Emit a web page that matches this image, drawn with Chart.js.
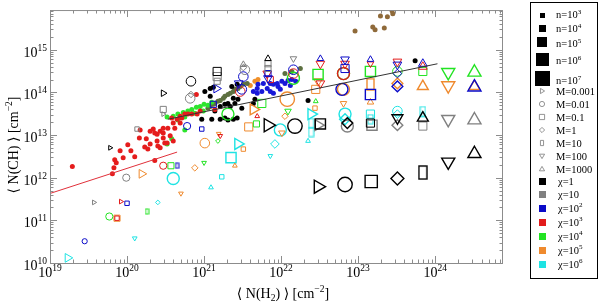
<!DOCTYPE html>
<html>
<head>
<meta charset="utf-8">
<script src="https://cdn.jsdelivr.net/npm/chart.js@4.4.0/dist/chart.umd.min.js"></script>
<style>
  html, body { margin: 0; padding: 0; background: #fff; }
</style>
</head>
<body>
<canvas id="chart" width="600" height="306"></canvas>
<script>
// all values are log10 of the column densities
const xTickExps = [19, 20, 21, 22, 23, 24];
const yTickExps = [10, 11, 12, 13, 14, 15];

// observations (filled dots)
const redDots = [[19.29,12.26],[19.84,12.42],[19.86,12.35],[19.83,12.23],[19.81,12.09],[19.95,12.47],[20.36,12.40],
  [20.01,12.77],[20.17,13.12],[20.30,13.09],[20.34,13.14],[20.16,12.93],[20.25,12.91],[20.39,13.02],[20.47,13.05],
  [20.53,13.16],[20.60,13.28],[20.65,13.37],[20.69,13.44],[20.75,13.49],[20.58,13.40],[20.49,12.81],[20.27,12.67],
  [20.40,12.74],[20.90,13.95],[20.36,13.05],[20.43,13.09],[20.47,13.16],[20.56,12.98],[20.47,12.93],[20.39,12.86],
  [20.30,12.79],[20.23,12.72],[20.43,12.70],[20.52,12.81],[20.60,12.86],[20.91,13.49],[20.95,13.56],[21.14,13.60],
  [20.84,13.49],[20.71,13.40],[20.62,13.16],[20.79,13.49],[20.69,13.28],[19.91,12.63],[20.05,12.63],[20.10,12.49]];
const greenDots = [[20.52,13.42],[20.60,13.44],[20.66,13.49],[20.73,13.53],[20.79,13.56],[20.84,13.60],[20.90,13.65],
  [20.95,13.67],[21.00,13.72],[21.05,13.70],[21.10,13.77],[20.75,13.42],[20.66,13.35],[20.88,13.51],[20.99,13.56],
  [20.52,12.79],[20.75,13.12],[20.58,12.91]];
const blackDots = [[21.08,14.09],[21.12,14.12],[21.36,14.14],[21.43,14.19],[21.38,13.86],[21.31,13.74],[21.27,13.72],
  [21.34,13.67],[21.40,13.74],[21.44,13.84],[21.49,13.63],[21.21,13.67],[20.97,13.37],[21.10,13.37],[21.21,13.37],
  [21.27,13.40],[21.31,13.35],[21.38,13.37],[21.43,13.40],[21.14,13.56],[21.08,13.91],[21.01,14.02],[21.64,13.74],
  [21.66,13.84],[23.74,14.74],[22.35,13.81]];
const blueDots = [[21.64,14.02],[21.69,14.09],[21.70,14.19],[21.77,14.21],[21.86,14.21],[21.90,14.19],[21.95,14.21],
  [22.01,14.26],[22.05,14.21],[21.96,14.14],[21.82,14.09],[21.75,14.02],[21.86,14.02],[21.90,13.98],[21.69,13.98],
  [22.09,14.28],[22.14,14.30],[22.19,14.26],[22.12,14.16],[21.99,14.07]];
const oliveDots = [[21.05,13.63],[21.08,13.67],[21.12,13.72],[21.14,13.74],[21.18,13.79],[21.21,13.81],[21.25,13.86],
  [21.27,13.91],[21.31,13.95],[21.34,13.98],[21.38,14.02],[21.40,14.07],[21.44,14.09],[21.47,14.14],[21.51,14.19],
  [21.56,14.21],[22.05,14.44],[22.14,14.49],[22.25,14.56]];
const orangeDots = [[21.66,14.26],[21.70,14.30],[21.60,14.16]];
const brownDots = [[22.96,15.44],[23.19,15.53],[23.22,15.47],[23.29,15.79],[23.38,15.77],[23.34,15.51],[23.44,15.91],[23.45,15.84]];

// fits
const redFit = [[19.0, 11.63], [20.65, 12.60]];
const blackFit = [[20.53, 13.37], [24.03, 14.67]];

// models: [logN(H2), logN(CH), M index, n index]
const mLabels = ['0.001', '0.01', '0.1', '1', '10', '100', '1000'];
const nLabels = ['3', '4', '5', '6', '7'];
const chiLabels = [['1', ''], ['10', ''], ['10', '2'], ['10', '3'], ['10', '4'], ['10', '5'], ['10', '6']];
const chiColors = ['#000000', '#808080', '#0a0ac8', '#e21b1b', '#22e322', '#ef8a2e', '#1ee3e3'];

const chi1 = [[19.78,12.70,0,0],[20.47,13.98,0,1],[20.83,14.26,1,2],[21.17,14.49,2,2],[21.83,14.79,6,1],
  [21.83,13.23,0,4],[22.18,13.21,1,4],[22.51,13.26,2,3],[22.86,13.28,3,3],[23.16,13.28,2,2],[23.51,13.40,5,3],
  [23.84,13.40,6,3],[22.48,11.79,0,4],[22.83,11.84,1,4],[23.17,11.91,2,4],[23.51,11.98,3,4],[23.84,12.12,4,4],
  [24.17,12.37,5,4],[24.51,12.56,6,4]];
const chi10 = [[19.57,11.42,0,0],[19.99,12.00,1,1],[20.13,13.14,2,0],[20.47,13.60,2,1],[20.47,13.49,0,0],
  [20.83,13.95,3,1],[20.82,13.86,1,2],[21.17,14.37,2,2],[21.17,14.26,2,1],[21.51,14.65,6,1],[21.51,14.58,3,1],
  [21.53,14.53,1,2],[21.83,14.67,2,1],[21.83,14.56,2,1],[22.16,14.79,5,1],[22.48,13.23,0,3],[22.86,13.21,1,3],
  [23.18,13.23,2,3],[23.51,13.23,3,3],[23.84,13.21,2,2],[24.17,13.37,5,4],[24.51,13.35,6,4]];
const chi1e2 = [[19.45,10.51,1,0],[20.00,11.40,2,0],[20.78,13.21,1,1],[21.16,14.09,0,2],[21.51,14.37,1,2],
  [21.45,14.21,5,2],[21.83,14.33,5,2],[22.16,14.53,1,2],[22.51,14.79,6,1],[22.83,14.56,2,2],[22.83,14.77,5,2],
  [22.79,14.07,1,3],[23.16,14.77,6,1],[23.16,13.95,2,3],[23.51,14.65,5,2],[23.51,14.44,3,2],[23.51,14.14,3,3],
  [23.84,14.67,6,2],[24.51,14.12,6,4],[21.12,13.72,2,1],[21.49,14.07,1,2],[20.65,12.28,4,0],[20.97,13.14,2,0],
  [21.83,14.44,2,1]];
const chi1e3 = [[19.92,11.44,0,0],[19.87,11.05,2,0],[20.47,12.28,1,1],[21.47,14.02,1,2],[21.69,13.44,6,0],
  [21.21,12.98,5,0],[21.82,14.44,5,2],[21.86,14.30,2,1],[22.16,14.44,1,2],[22.51,14.67,5,2],[22.83,14.67,5,2],
  [22.81,14.44,1,3],[23.16,14.67,5,1],[23.51,14.72,5,2],[23.84,14.60,6,2],[22.51,14.21,5,2]];
const chi1e4 = [[19.77,11.09,1,1],[20.26,11.21,4,0],[20.57,12.28,2,1],[21.00,12.35,5,0],[21.18,12.86,3,0],
  [21.31,13.49,1,3],[21.68,13.26,2,1],[21.75,13.74,2,2],[22.09,13.56,5,1],[22.16,14.33,1,3],[22.48,14.42,2,3],
  [22.45,13.79,6,0],[22.81,14.44,1,3],[23.16,14.49,2,3],[23.51,14.49,1,2],[23.84,14.49,2,2],[24.17,14.47,5,4],
  [24.51,14.47,6,4]];
const chi1e5 = [[19.87,11.05,2,1],[20.19,12.09,0,2],[20.70,11.63,5,0],[20.88,12.23,3,1],[21.40,12.28,6,0],
  [21.19,13.03,5,0],[21.51,12.67,2,0],[21.64,13.60,0,3],[21.58,13.19,2,2],[22.08,13.84,1,4],[22.05,13.44,3,1],
  [22.01,13.05,5,1],[22.48,14.26,5,2],[22.45,14.07,2,2],[22.44,13.63,2,0],[22.81,14.07,1,3],[22.81,13.74,5,1],
  [23.16,14.19,4,3],[23.16,13.77,6,1],[23.51,14.21,3,3],[23.84,14.14,6,3],[24.17,14.16,5,4],[24.51,14.14,6,3],
  [21.01,12.81,1,2]];
const chi1e6 = [[19.23,10.12,0,2],[20.10,10.58,5,0],[20.40,11.42,3,0],[20.60,11.98,1,3],[21.09,11.77,6,0],
  [21.23,12.02,2,0],[21.35,12.47,2,3],[21.86,12.51,5,0],[21.44,12.79,0,3],[21.92,12.79,3,2],[21.99,13.12,1,3],
  [22.39,13.49,0,3],[22.39,13.28,4,2],[22.39,13.07,4,2],[22.35,12.86,6,0],[22.83,13.49,1,3],[22.83,13.37,3,3],
  [23.16,13.49,2,2],[23.16,13.37,4,2],[23.51,13.56,1,2],[23.51,13.49,3,2],[23.84,13.56,4,2],[23.84,13.47,6,1]];
const modelSets = [chi1, chi10, chi1e2, chi1e3, chi1e4, chi1e5, chi1e6];

const SERIF = '"Liberation Serif", "DejaVu Serif", serif';
const baseR = [2.6, 3.6, 4.8, 6.0, 7.2];

const toXY = a => ({ x: 10 ** a[0], y: 10 ** a[1], m: a[2], n: a[3] });

// narrow rectangle (M=10) has no built-in point style, so make small canvases
const rectCache = {};
function narrowRect(color, r, lw) {
  const key = color + r + lw;
  if (rectCache[key]) return rectCache[key];
  const w = Math.round(r * 1.1), h = Math.round(r * 1.8);
  const c = document.createElement('canvas');
  c.width = w + 2; c.height = h + 2;
  const g = c.getContext('2d');
  g.strokeStyle = color; g.lineWidth = lw;
  g.strokeRect(1, 1, w, h);
  rectCache[key] = c;
  return c;
}

function lineW(n) { return n >= 3 ? 1.4 : 1; }
function shapeStyle(m) { return ['triangle', 'circle', 'rect', 'rectRot', null, 'triangle', 'triangle'][m]; }
function shapeRadius(m, n) {
  const r = baseR[n];
  return r * [1.05, 1, 1.2, 0.9, 1, 1.05, 1.05][m];
}

function modelDataset(set, color, i) {
  return {
    type: 'scatter',
    data: set.map(toXY),
    order: 10 + i,
    pointBackgroundColor: 'rgba(0,0,0,0)',
    pointBorderColor: color,
    pointBorderWidth: c => lineW(c.raw.n),
    pointRadius: c => shapeRadius(c.raw.m, c.raw.n),
    pointRotation: c => (c.raw.m === 0 ? 90 : c.raw.m === 5 ? 180 : 0),
    pointStyle: c => (c.raw.m === 4 ? narrowRect(color, baseR[c.raw.n], lineW(c.raw.n)) : shapeStyle(c.raw.m))
  };
}

function dotDataset(list, color, i) {
  return {
    type: 'scatter',
    data: list.map(toXY),
    order: 30 + i,
    pointRadius: 2.5,
    pointBorderWidth: 0,
    pointBackgroundColor: color,
    pointBorderColor: color
  };
}

function fitDataset(list, color) {
  return {
    type: 'line',
    data: list.map(toXY),
    order: 1,
    borderColor: color,
    borderWidth: 1,
    pointRadius: 0,
    showLine: true
  };
}

// text with sub/superscripts
function drawRich(ctx, parts, x, y, size, align) {
  const small = size * 0.68;
  let total = 0;
  const widths = parts.map(([t, k]) => {
    ctx.font = (k ? small : size) + 'px ' + SERIF;
    const w = ctx.measureText(t).width;
    total += w;
    return w;
  });
  let cx = align === 'center' ? x - total / 2 : align === 'right' ? x - total : x;
  ctx.textAlign = 'left';
  ctx.textBaseline = 'alphabetic';
  parts.forEach(([t, k], i) => {
    ctx.font = (k ? small : size) + 'px ' + SERIF;
    const dy = k === 1 ? -size * 0.42 : k === -1 ? size * 0.22 : 0;
    ctx.fillText(t, cx, y + dy);
    cx += widths[i];
  });
}

function drawShape(ctx, m, x, y, r, color) {
  ctx.save();
  ctx.strokeStyle = color;
  ctx.lineWidth = 0.8;
  ctx.beginPath();
  if (m === 1) ctx.arc(x, y, r, 0, Math.PI * 2);
  else if (m === 2) ctx.rect(x - r, y - r, 2 * r, 2 * r);
  else if (m === 3) { ctx.moveTo(x, y - r); ctx.lineTo(x + r, y); ctx.lineTo(x, y + r); ctx.lineTo(x - r, y); ctx.closePath(); }
  else if (m === 4) ctx.rect(x - r * 0.6, y - r, r * 1.2, 2 * r);
  else if (m === 0) { ctx.moveTo(x + r, y); ctx.lineTo(x - r * 0.6, y - r); ctx.lineTo(x - r * 0.6, y + r); ctx.closePath(); }
  else if (m === 5) { ctx.moveTo(x, y + r); ctx.lineTo(x - r, y - r * 0.7); ctx.lineTo(x + r, y - r * 0.7); ctx.closePath(); }
  else { ctx.moveTo(x, y - r); ctx.lineTo(x - r, y + r * 0.7); ctx.lineTo(x + r, y + r * 0.7); ctx.closePath(); }
  ctx.stroke();
  ctx.restore();
}

const decorations = {
  id: 'decorations',
  afterDatasetsDraw(chart) {
    const { ctx, chartArea: a, scales: { x, y } } = chart;
    ctx.save();
    ctx.strokeStyle = '#8c8c8c';
    ctx.lineWidth = 1;
    ctx.strokeRect(a.left + 0.5, a.top + 0.5, a.right - a.left - 1, a.bottom - a.top);
    ctx.beginPath();
    for (let d = 19; d <= 24; d++) {
      for (let k = 1; k <= 9; k++) {
        const v = k * 10 ** d;
        if (v > x.max) continue;
        const px = Math.round(x.getPixelForValue(v)) + 0.5;
        const len = k === 1 ? 7 : 3.5;
        ctx.moveTo(px, a.bottom); ctx.lineTo(px, a.bottom - len);
        ctx.moveTo(px, a.top); ctx.lineTo(px, a.top + len);
      }
    }
    for (let d = 10; d <= 15; d++) {
      for (let k = 1; k <= 9; k++) {
        const v = k * 10 ** d;
        if (v > y.max) continue;
        const py = Math.round(y.getPixelForValue(v)) + 0.5;
        const len = k === 1 ? 7 : 3.5;
        ctx.moveTo(a.left, py); ctx.lineTo(a.left + len, py);
        ctx.moveTo(a.right, py); ctx.lineTo(a.right - len, py);
      }
    }
    ctx.stroke();

    ctx.fillStyle = '#000';
    xTickExps.forEach(e => {
      drawRich(ctx, [['10', 0], [String(e), 1]], x.getPixelForValue(10 ** e), a.bottom + 14, 14, 'center');
    });
    yTickExps.forEach(e => {
      drawRich(ctx, [['10', 0], [String(e), 1]], a.left - 3, y.getPixelForValue(10 ** e) + 7, 14, 'right');
    });

    // axis titles
    drawRich(ctx, [['\u27E8 N(H', 0], ['2', -1], [') \u27E9 [cm', 0], ['\u22122', 1], [']', 0]], 283, 298, 14, 'center');
    ctx.save();
    ctx.translate(18, 145);
    ctx.rotate(-Math.PI / 2);
    drawRich(ctx, [['\u27E8 N(CH) \u27E9 [cm', 0], ['\u22122', 1], [']', 0]], 0, 0, 14, 'center');
    ctx.restore();

    // legend
    ctx.strokeStyle = '#000';
    ctx.lineWidth = 1;
    ctx.strokeRect(530.5, 2.5, 67, 276);
    const lx = 542, tx = 556;
    const nY = [15, 28, 42, 59, 78], nTextY = [18, 32, 47, 64, 84], nSize = [5, 7, 10, 13, 15];
    nLabels.forEach((lab, i) => {
      ctx.fillStyle = '#000';
      ctx.fillRect(Math.round(lx - nSize[i] / 2), Math.round(nY[i] - nSize[i] / 2), nSize[i], nSize[i]);
      drawRich(ctx, [['n=10', 0], [lab, 1]], tx, nTextY[i], 10.5, 'left');
    });
    const mY = [91, 104, 117, 130, 143, 156, 169];
    mLabels.forEach((lab, i) => {
      drawShape(ctx, i, lx, mY[i], 2.6, '#7a7a7a');
      ctx.fillStyle = '#000';
      drawRich(ctx, [['M=' + lab, 0]], tx, mY[i] + 3.5, 10.5, 'left');
    });
    const cY = [181, 194, 208, 222, 236, 250, 264];
    chiLabels.forEach((lab, i) => {
      ctx.fillStyle = chiColors[i];
      ctx.fillRect(lx - 3, cY[i] - 3, 7, 7);
      ctx.fillStyle = '#000';
      drawRich(ctx, [['\u03C7=' + lab[0], 0], [lab[1], 1]], tx + 2, cY[i] + 3.5, 10.5, 'left');
    });
    ctx.restore();
  }
};

const datasets = [
  fitDataset(redFit, '#e0303a'),
  fitDataset(blackFit, '#333333'),
  ...modelSets.map((s, i) => modelDataset(s, chiColors[i], i)),
  dotDataset(redDots, '#e51c1c', 0),
  dotDataset(greenDots, '#2ee52e', 1),
  dotDataset(blackDots, '#000000', 2),
  dotDataset(blueDots, '#1818d8', 3),
  dotDataset(oliveDots, '#5d7040', 4),
  dotDataset(orangeDots, '#f0902a', 5),
  dotDataset(brownDots, '#8f6a3a', 6)
];

new Chart(document.getElementById('chart'), {
  type: 'scatter',
  data: { datasets },
  options: {
    responsive: false,
    animation: false,
    events: [],
    layout: { padding: { left: 50, top: 7, right: 97, bottom: 43 } },
    plugins: { legend: { display: false }, tooltip: { enabled: false } },
    scales: {
      x: { type: 'logarithmic', min: 1e19, max: 7.6e24, display: false },
      y: { type: 'logarithmic', min: 1e10, max: 8.5e15, display: false }
    }
  },
  plugins: [decorations]
});
</script>
</body>
</html>
